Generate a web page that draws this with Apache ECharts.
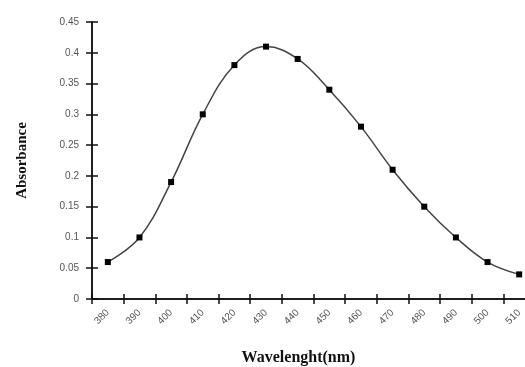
<!DOCTYPE html>
<html><head><meta charset="utf-8">
<script src="https://cdn.jsdelivr.net/npm/echarts@6/dist/echarts.min.js"></script>
<style>html,body{margin:0;padding:0;background:#fff}#c{width:525px;height:367px}</style>
</head><body><div id="c"></div>
<script>
var wavelengths = ['380','390','400','410','420','430','440','450','460','470','480','490','500','510'];
var absorbance = [0.06,0.10,0.19,0.30,0.38,0.41,0.39,0.34,0.28,0.21,0.15,0.10,0.06,0.04];
var yMin = 0, yMax = 0.45, yStep = 0.05;

var chart = echarts.init(document.getElementById('c'), null, {renderer:'canvas'});
var axisLine = {show:true, lineStyle:{color:'#111', width:1.5}};
var labelStyle = {color:'#555', fontSize:10, fontFamily:'Liberation Sans, Arial, sans-serif'};
chart.setOption({
  animation:false,
  backgroundColor:'#fff',
  grid:{left:92, top:22, bottom:68, right:-10, containLabel:false, outerBoundsMode:'none'},
  xAxis:[{
    type:'category', data:wavelengths, boundaryGap:true, position:'bottom',
    axisLine:axisLine,
    axisTick:{show:true, inside:false, length:5, lineStyle:{color:'#111', width:1.5}},
    axisLabel:Object.assign({rotate:45, margin:12, interval:0}, labelStyle),
    splitLine:{show:false},
    name:'Wavelenght(nm)', nameLocation:'middle', nameGap:51,
    nameTextStyle:{fontFamily:'Liberation Serif, Times New Roman, serif', fontWeight:'bold', fontSize:16, color:'#111', padding:[0,30,0,0]}
  },{
    type:'category', data:wavelengths, boundaryGap:true, position:'bottom',
    axisLine:axisLine,
    axisTick:{show:true, inside:true, length:5, lineStyle:{color:'#111', width:1.5}},
    axisLabel:{show:false}, splitLine:{show:false}
  }],
  yAxis:[{
    type:'value', min:yMin, max:yMax, interval:yStep, position:'left',
    axisLine:axisLine,
    axisTick:{show:true, inside:false, length:6, lineStyle:{color:'#111', width:1.5}},
    axisLabel:Object.assign({margin:13}, labelStyle),
    splitLine:{show:false},
    name:'Absorbance', nameLocation:'middle', nameGap:62, nameRotate:90,
    nameTextStyle:{fontFamily:'Liberation Serif, Times New Roman, serif', fontWeight:'bold', fontSize:15, color:'#111'}
  },{
    type:'value', min:yMin, max:yMax, interval:yStep, position:'left',
    axisLine:axisLine,
    axisTick:{show:true, inside:true, length:6, lineStyle:{color:'#111', width:1.5}},
    axisLabel:{show:false}, splitLine:{show:false}
  }],
  series:[{
    type:'line', data:absorbance, xAxisIndex:0, yAxisIndex:0,
    smooth:0.4, symbol:'rect', symbolSize:6,
    lineStyle:{color:'#444', width:1.5},
    itemStyle:{color:'#000'}
  }]
});
</script></body></html>
